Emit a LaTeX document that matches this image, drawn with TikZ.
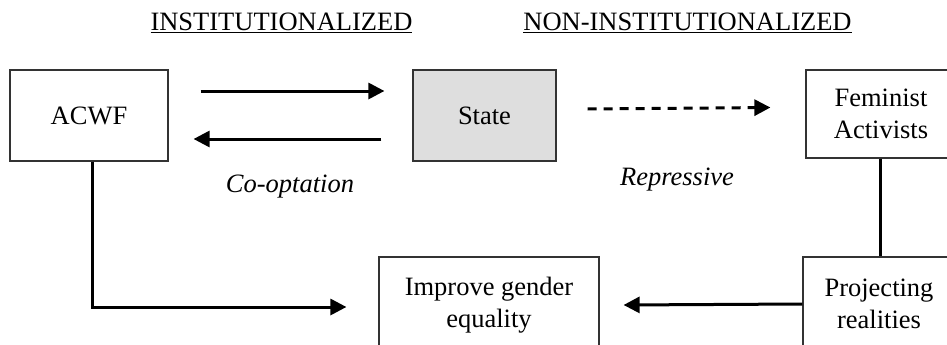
\documentclass[tikz,border=0pt]{standalone}
\usepackage{fontspec}
\setmainfont{Liberation Serif}
\usetikzlibrary{arrows.meta}
\tikzset{
  box/.style={draw=black!80, line width=1.2pt, align=center, inner sep=0pt,
    font=\fontsize{26.5}{32}\selectfont},
  conn/.style={line width=3pt},
  arr/.style={conn, -{Triangle[length=16pt,width=16pt]}},
  lbl/.style={font=\fontsize{26.5}{30}\selectfont\itshape, inner sep=0pt},
  head/.style={font=\fontsize{26.5}{30}\selectfont, inner sep=0pt, anchor=base}
}
\begin{document}
\begin{tikzpicture}[x=1pt,y=-1pt]
\useasboundingbox (0,0) rectangle (947,345);
\clip (0,0) rectangle (947,345);
\node[head] (h1) at (281.5,31) {\underline{INSTITUTIONALIZED}};
\node[head] (h2) at (687.5,31) {\underline{NON-INSTITUTIONALIZED}};
\node[box, minimum width=158pt, minimum height=91pt] (acwf) at (89,115.5) {ACWF};
\node[box, fill=black!13, minimum width=143pt, minimum height=91pt] (state) at (484.5,115.5) {State};
\node[box, minimum width=150pt, minimum height=88pt] (fem) at (881,114) {Feminist\\Activists};
\node[box, minimum width=152pt, minimum height=94pt] (proj) at (879,304) {Projecting\\realities};
\node[box, minimum width=220pt, minimum height=96pt] (imp) at (489,305) {Improve gender\\equality};
\node[lbl] (coopt) at (290,187) {Co-optation};
\node[lbl] (repr) at (677,180) {Repressive};
\draw[arr] ([xshift=32pt,yshift=24.5pt]acwf.east) -- ([xshift=-28pt,yshift=24.5pt]state.west);
\draw[arr] ([xshift=-31pt,yshift=-23.5pt]state.west) -- ([xshift=25pt,yshift=-23.5pt]acwf.east);
\draw[arr, dash pattern=on 9pt off 7pt] ([xshift=31pt,yshift=6.5pt]state.east) -- ([xshift=-35pt,yshift=6.5pt]fem.west);
\draw[arr] ([xshift=3pt]acwf.south) |- ([xshift=-32pt,yshift=-2pt]imp.west);
\draw[conn] ([xshift=-1pt]fem.south) -- ([xshift=1pt]proj.north);
\draw[arr] (proj.west) -- ([xshift=24pt]imp.east);
\end{tikzpicture}
\end{document}
